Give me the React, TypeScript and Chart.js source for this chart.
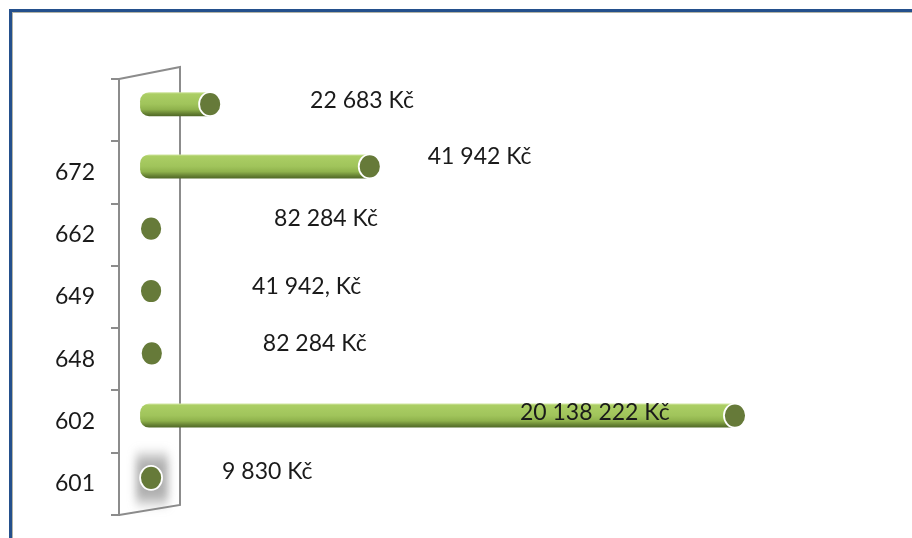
import React, { useEffect, useRef } from 'react';
import { Chart, registerables } from 'chart.js';

Chart.register(...registerables);

// ---- data (top to bottom) ----
const CATEGORIES = ['', '672', '662', '649', '648', '602', '601'];
const BAR_VALUES = [8.1, 30, 0, 0, 0.1, 80.1, 0];
const VALUE_LABELS = ['22 683 Kč', '41 942 Kč', '82 284 Kč', '41 942, Kč', '82 284 Kč', '20 138 222 Kč', '9 830 Kč'];

// ---- layout / style (not data) ----
const LABEL_OFFSETS: [number, number][] = [
  [100, -4], [58, -10], [123, -10], [101, -4], [111, -10], [-215, -3], [71, -6],
];
const GLOW = [false, false, false, false, false, false, true];
const FONT = 'Lato, "Open Sans", sans-serif';
const BAR_SHIFT = -6;
const CAP_RX = 11;
const WALL_DEPTH_X = 61;

const cylinderPlugin = {
  id: 'cylinder',
  beforeDatasetsDraw(chart: any) {
    const { ctx, chartArea } = chart;
    const l = chartArea.left, t = chartArea.top, b = chartArea.bottom;
    ctx.save();
    ctx.strokeStyle = '#8c8c8c';
    ctx.lineWidth = 2;
    ctx.beginPath();
    ctx.moveTo(l, t);
    ctx.lineTo(l + WALL_DEPTH_X, t - 12);
    ctx.lineTo(l + WALL_DEPTH_X, b - 10);
    ctx.lineTo(l, b);
    ctx.stroke();
    ctx.restore();
  },
  afterDatasetsDraw(chart: any) {
    const { ctx } = chart;
    const meta = chart.getDatasetMeta(0);
    meta.data.forEach((el: any, i: number) => {
      const h = el.height;
      const cy = el.y + BAR_SHIFT;
      const top = cy - h / 2;
      const x = el.x;
      const base = el.base;
      ctx.save();
      if (GLOW[i]) {
        ctx.save();
        ctx.filter = 'blur(4px)';
        const g = ctx.createLinearGradient(0, cy - 30, 0, cy + 32);
        g.addColorStop(0, 'rgba(120,120,120,0)');
        g.addColorStop(0.25, 'rgba(120,120,120,0.6)');
        g.addColorStop(0.75, 'rgba(120,120,120,0.6)');
        g.addColorStop(1, 'rgba(120,120,120,0)');
        ctx.fillStyle = g;
        ctx.fillRect(x - 15, cy - 30, 32, 62);
        ctx.restore();
      }
      if (x - base > 1) {
        const grad = ctx.createLinearGradient(0, top, 0, top + h);
        grad.addColorStop(0, '#d2e6a2');
        grad.addColorStop(0.08, '#abce64');
        grad.addColorStop(0.5, '#a0c45b');
        grad.addColorStop(0.72, '#8fb24c');
        grad.addColorStop(0.9, '#647f32');
        grad.addColorStop(1, '#506827');
        ctx.fillStyle = grad;
        const left = base - CAP_RX;
        ctx.beginPath();
        ctx.roundRect(left, top, x - left, h, [9, 0, 0, 9]);
        ctx.fill();
      }
      // end cap
      ctx.beginPath();
      ctx.ellipse(x, cy, CAP_RX, h / 2, 0, 0, Math.PI * 2);
      ctx.fillStyle = '#667a39';
      ctx.fill();
      ctx.lineWidth = 1.8;
      ctx.strokeStyle = '#ffffff';
      ctx.stroke();
      ctx.restore();

      // value label
      const [dx, dy] = LABEL_OFFSETS[i];
      ctx.save();
      ctx.font = `23px ${FONT}`;
      ctx.fillStyle = '#1a1a1a';
      ctx.textAlign = 'left';
      ctx.textBaseline = 'middle';
      ctx.fillText(VALUE_LABELS[i], x + dx, cy + dy);
      ctx.restore();
    });
  },
};

export default function App() {
  const ref = useRef<HTMLCanvasElement | null>(null);
  useEffect(() => {
    if (!ref.current) return;
    const chart = new Chart(ref.current, {
      type: 'bar',
      data: {
        labels: CATEGORIES,
        datasets: [
          {
            data: BAR_VALUES,
            backgroundColor: 'rgba(0,0,0,0)',
            borderWidth: 0,
            barThickness: 24,
          },
        ],
      },
      options: {
        indexAxis: 'y',
        animation: false,
        responsive: true,
        maintainAspectRatio: false,
        layout: { padding: { left: 54, top: 79, right: 32, bottom: 23 } },
        plugins: { legend: { display: false }, tooltip: { enabled: false } },
        scales: {
          x: { display: false, min: -4.4, max: 100 },
          y: {
            afterFit: (s: any) => { s.width = 65; s.paddingTop = 0; s.paddingBottom = 0; },
            grid: { display: true, drawOnChartArea: false, drawTicks: true, tickLength: 8, color: '#8c8c8c', lineWidth: 2 },
            border: { display: true, color: '#8c8c8c', width: 2 },
            ticks: { padding: 16, color: '#1a1a1a', font: { family: FONT, size: 23 } },
          },
        },
      },
      plugins: [cylinderPlugin],
    });
    return () => chart.destroy();
  }, []);

  return (
    <div style={{ position: 'fixed', left: 0, top: 0, width: 912, height: 538, background: '#ffffff' }}>
      <div style={{ position: 'absolute', left: 9, top: 9, right: -10, bottom: -10, borderLeft: '3px solid #24508c', borderTop: '3px solid #24508c' }}>
        <div style={{ position: 'absolute', left: 0, top: 0, right: 0, bottom: 0, borderLeft: '1px solid #b4b4a6', borderTop: '1px solid #b4b4a6' }} />
      </div>
      <div style={{ position: 'absolute', left: 0, top: 0, width: 912, height: 538 }}>
        <canvas ref={ref} />
      </div>
    </div>
  );
}
